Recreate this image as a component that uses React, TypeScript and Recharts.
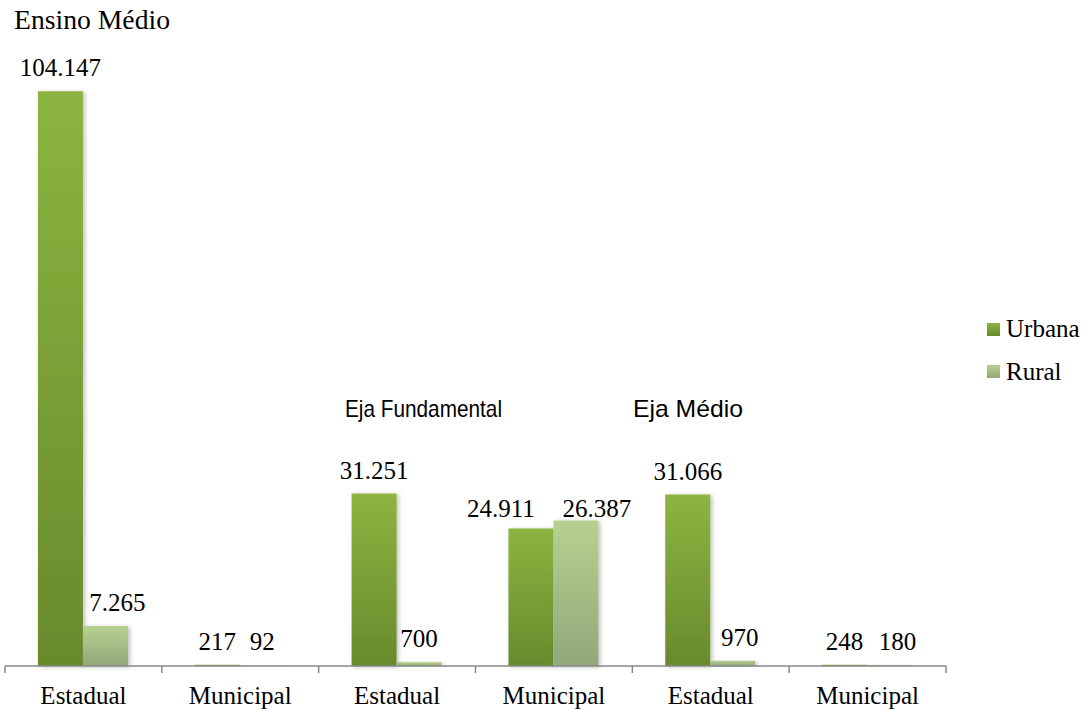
import React from 'react';
import { BarChart, Bar, XAxis, YAxis, LabelList } from 'recharts';

const categories = ['Estadual', 'Municipal', 'Estadual', 'Municipal', 'Estadual', 'Municipal'];
const urbana = [104147, 217, 31251, 24911, 31066, 248];
const rural = [7265, 92, 700, 26387, 970, 180];
const groupTitles = ['Ensino Médio', 'Eja Fundamental', 'Eja Médio'];
const seriesNames = ['Urbana', 'Rural'];

const data = categories.map((c, i) => ({ cat: c, urbana: urbana[i], rural: rural[i] }));

const W = 1088;
const H = 710;
const M = { top: 59, right: 142, left: 5, bottom: 0 };
const BAND = (W - M.left - M.right) / categories.length;

const serif = '"Liberation Serif", "Times New Roman", serif';
const sans = '"Liberation Sans", Arial, sans-serif';

// small label nudges (as placed by the original chart tool to avoid overlaps)
const labelNudge: Record<string, [number, number]> = {
  'rural-0': [12, 0],
  'urbana-3': [-30, 3],
  'rural-3': [21, 12],
  'rural-4': [7, 0],
  'rural-5': [8, 0],
};

const fmt = (v: number) => {
  const s = String(Math.round(v));
  return s.replace(/\B(?=(\d{3})+(?!\d))/g, '.');
};

const makeLabel = (series: string) => (props: any) => {
  const { x, y, width, value, index } = props;
  const [dx, dy] = labelNudge[`${series}-${index}`] || [0, 0];
  return (
    <text
      x={Number(x) + Number(width) / 2 + dx}
      y={Number(y) - 15 + dy}
      textAnchor="middle"
      fontFamily={serif}
      fontSize={25}
      fill="#000"
    >
      {fmt(value)}
    </text>
  );
};

const CatTick = (props: any) => {
  const { x, y, payload, index } = props;
  const half = payload && payload.offset > 10 ? payload.offset : BAND / 2;
  const last = index === categories.length - 1;
  return (
    <g>
      <line x1={x - half} x2={x - half} y1={y} y2={y + 7} stroke="#898989" strokeWidth={1.5} />
      {last && <line x1={x + half} x2={x + half} y1={y} y2={y + 7} stroke="#898989" strokeWidth={1.5} />}
      <text x={x} y={y + 38} textAnchor="middle" fontFamily={serif} fontSize={25} fill="#000">
        {payload.value}
      </text>
    </g>
  );
};

export default function App() {
  return (
    <div style={{ position: 'absolute', left: 0, top: 0, width: W, height: H, background: '#fff' }}>
      <BarChart
        width={W}
        height={H}
        data={data}
        margin={M}
        barCategoryGap="21%"
        barGap={0}
      >
        <defs>
          <linearGradient id="gU" x1="0" y1="0" x2="0" y2="1">
            <stop offset="0%" stopColor="#8db440" />
            <stop offset="100%" stopColor="#688a2c" />
          </linearGradient>
          <linearGradient id="gR" x1="0" y1="0" x2="0" y2="1">
            <stop offset="0%" stopColor="#b6d18f" />
            <stop offset="100%" stopColor="#91a87a" />
          </linearGradient>
          <filter id="shadow" x="-20%" y="-5%" width="150%" height="115%">
            <feDropShadow dx="2" dy="1" stdDeviation="2" floodColor="#000" floodOpacity="0.25" />
          </filter>
        </defs>
        <XAxis
          dataKey="cat"
          height={44}
          axisLine={{ stroke: '#898989', strokeWidth: 1.5 }}
          tickLine={false}
          tickSize={0}
          tickMargin={0}
          tick={<CatTick />}
          interval={0}
        />
        <YAxis hide domain={[0, 110000]} />
        <Bar dataKey="urbana" name="Urbana" fill="url(#gU)" filter="url(#shadow)" isAnimationActive={false}>
          <LabelList dataKey="urbana" content={makeLabel('urbana')} />
        </Bar>
        <Bar dataKey="rural" name="Rural" fill="url(#gR)" filter="url(#shadow)" isAnimationActive={false}>
          <LabelList dataKey="rural" content={makeLabel('rural')} />
        </Bar>
      </BarChart>
      <svg
        width={W}
        height={H}
        style={{ position: 'absolute', left: 0, top: 0, pointerEvents: 'none' }}
      >
        <defs>
          <linearGradient id="lgU" x1="0" y1="0" x2="0" y2="1">
            <stop offset="0%" stopColor="#8db440" />
            <stop offset="100%" stopColor="#688a2c" />
          </linearGradient>
          <linearGradient id="lgR" x1="0" y1="0" x2="0" y2="1">
            <stop offset="0%" stopColor="#b6d18f" />
            <stop offset="100%" stopColor="#91a87a" />
          </linearGradient>
        </defs>
        <rect x={987} y={323} width={13} height={13} fill="url(#lgU)" />
        <text x={1006} y={337} fontFamily={serif} fontSize={25}>{seriesNames[0]}</text>
        <rect x={987} y={365} width={13} height={13} fill="url(#lgR)" />
        <text x={1006} y={380} fontFamily={serif} fontSize={25}>{seriesNames[1]}</text>
        <text x={14} y={29} fontFamily={serif} fontSize={27} textLength={156} lengthAdjust="spacingAndGlyphs">
          {groupTitles[0]}
        </text>
        <text x={345} y={417} fontFamily={sans} fontSize={24} textLength={157} lengthAdjust="spacingAndGlyphs">
          {groupTitles[1]}
        </text>
        <text x={633} y={417} fontFamily={sans} fontSize={24} textLength={110} lengthAdjust="spacingAndGlyphs">
          {groupTitles[2]}
        </text>
      </svg>
    </div>
  );
}
